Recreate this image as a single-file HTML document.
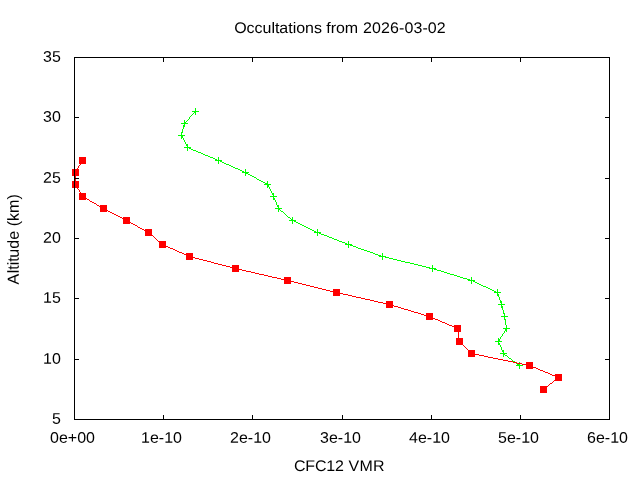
<!DOCTYPE html>
<html lang="en"><head><meta charset="utf-8"><title>Occultations from 2026-03-02</title>
<style>
html,body{margin:0;padding:0;background:#fff;}
body{width:640px;height:480px;overflow:hidden;font-family:"Liberation Sans",sans-serif;}
svg{display:block;}
text{font-family:"Liberation Sans",sans-serif;font-size:16px;fill:#000;}
</style></head><body>
<svg width="640" height="480" viewBox="0 0 640 480">
<rect width="640" height="480" fill="#fff"/>
<text transform="translate(234.2,33) rotate(0.03) scale(1,0.96)"><tspan x="0" textLength="87.7" lengthAdjust="spacing">Occultations</tspan> <tspan x="92">from</tspan> <tspan x="128.9" textLength="82.6" lengthAdjust="spacing">2026-03-02</tspan></text>
<text transform="translate(294,471) rotate(0.03) scale(1,0.96)"><tspan x="0" textLength="49.8" lengthAdjust="spacing">CFC12</tspan> <tspan x="54.6" textLength="36" lengthAdjust="spacing">VMR</tspan></text>
<text transform="translate(18.8,239.35) rotate(-90.03)"><tspan x="-45.15">A</tspan><tspan x="-33.9">ltit</tspan><tspan x="-18.3" textLength="63.46" lengthAdjust="spacing">ude (km)</tspan></text>
<text transform="translate(60.9,423.85) rotate(0.03) scale(1,0.96)" text-anchor="end">5</text>
<text transform="translate(60.9,363.85) rotate(0.03) scale(1,0.96)" text-anchor="end">10</text>
<text transform="translate(60.9,302.85) rotate(0.03) scale(1,0.96)" text-anchor="end">15</text>
<text transform="translate(60.9,242.85) rotate(0.03) scale(1,0.96)" text-anchor="end">20</text>
<text transform="translate(60.9,182.85) rotate(0.03) scale(1,0.96)" text-anchor="end">25</text>
<text transform="translate(60.9,121.85) rotate(0.03) scale(1,0.96)" text-anchor="end">30</text>
<text transform="translate(60.9,61.85) rotate(0.03) scale(1,0.96)" text-anchor="end">35</text>
<text transform="translate(72.5,442.8) rotate(0.03) scale(1,0.96)" text-anchor="middle">0e+00</text>
<text transform="translate(161.5,442.8) rotate(0.03) scale(1,0.96)" text-anchor="middle">1e-10</text>
<text transform="translate(250.5,442.8) rotate(0.03) scale(1,0.96)" text-anchor="middle">2e-10</text>
<text transform="translate(340.5,442.8) rotate(0.03) scale(1,0.96)" text-anchor="middle">3e-10</text>
<text transform="translate(429.5,442.8) rotate(0.03) scale(1,0.96)" text-anchor="middle">4e-10</text>
<text transform="translate(518.5,442.8) rotate(0.03) scale(1,0.96)" text-anchor="middle">5e-10</text>
<text transform="translate(607.5,442.8) rotate(0.03) scale(1,0.96)" text-anchor="middle">6e-10</text>
<path fill="#00ff00" shape-rendering="crispEdges" d="M195,108h1v7h-1zM192,111h3v1h-3zM196,111h3v1h-3zM194,112h1v1h-1zM193,113h1v1h-1zM192,114h1v1h-1zM191,115h1v1h-1zM190,116h1v1h-1zM189,117h1v2h-1zM188,119h1v1h-1zM184,120h1v7h-1zM187,120h1v1h-1zM186,121h1v1h-1zM185,122h1v2h-1zM181,123h3v1h-3zM186,123h2v1h-2zM183,125h1v4h-1zM182,129h1v4h-1zM181,132h1v7h-1zM178,135h3v1h-3zM182,135h3v1h-3zM182,136h1v2h-1zM183,138h1v2h-1zM184,140h1v2h-1zM185,142h1v2h-1zM186,144h2v1h-2zM186,145h2v1h-2zM187,146h1v5h-1zM184,147h3v1h-3zM188,147h3v1h-3zM189,148h2v1h-2zM191,149h2v1h-2zM193,150h3v1h-3zM196,151h2v1h-2zM198,152h3v1h-3zM201,153h2v1h-2zM203,154h2v1h-2zM205,155h3v1h-3zM208,156h2v1h-2zM210,157h3v1h-3zM218,157h1v7h-1zM213,158h2v1h-2zM215,159h2v1h-2zM215,160h3v1h-3zM219,160h3v1h-3zM220,161h2v1h-2zM222,162h2v1h-2zM224,163h2v1h-2zM226,164h3v1h-3zM229,165h2v1h-2zM231,166h2v1h-2zM233,167h2v1h-2zM235,168h3v1h-3zM238,169h2v1h-2zM245,169h1v7h-1zM240,170h2v1h-2zM242,171h2v1h-2zM242,172h3v1h-3zM246,172h3v1h-3zM246,173h2v1h-2zM248,174h2v1h-2zM250,175h2v1h-2zM252,176h2v1h-2zM254,177h2v1h-2zM256,178h1v1h-1zM257,179h2v1h-2zM259,180h2v1h-2zM261,181h2v1h-2zM267,181h1v7h-1zM263,182h2v1h-2zM265,183h2v1h-2zM264,184h3v1h-3zM268,184h3v1h-3zM268,185h1v2h-1zM269,187h1v2h-1zM270,189h1v2h-1zM271,191h1v2h-1zM272,193h2v1h-2zM272,194h2v1h-2zM273,195h1v5h-1zM270,196h3v1h-3zM274,196h3v1h-3zM274,198h1v2h-1zM275,200h1v2h-1zM276,202h1v3h-1zM277,205h2v1h-2zM277,206h2v1h-2zM278,207h1v5h-1zM275,208h3v1h-3zM279,208h3v1h-3zM279,209h1v1h-1zM280,210h1v1h-1zM281,211h2v1h-2zM283,212h1v1h-1zM284,213h1v1h-1zM285,214h1v1h-1zM286,215h1v1h-1zM287,216h1v1h-1zM288,217h2v1h-2zM292,217h1v7h-1zM290,218h1v1h-1zM291,219h1v2h-1zM289,220h2v1h-2zM293,220h3v1h-3zM294,221h2v1h-2zM296,222h2v1h-2zM298,223h2v1h-2zM300,224h2v1h-2zM302,225h2v1h-2zM304,226h2v1h-2zM306,227h2v1h-2zM308,228h2v1h-2zM310,229h2v1h-2zM317,229h1v7h-1zM312,230h2v1h-2zM314,231h2v1h-2zM314,232h3v1h-3zM318,232h3v1h-3zM319,233h2v1h-2zM321,234h3v1h-3zM324,235h3v1h-3zM327,236h2v1h-2zM329,237h3v1h-3zM332,238h2v1h-2zM334,239h3v1h-3zM337,240h2v1h-2zM339,241h3v1h-3zM348,241h1v7h-1zM342,242h3v1h-3zM345,243h2v1h-2zM345,244h3v1h-3zM349,244h3v1h-3zM350,245h3v1h-3zM353,246h3v1h-3zM356,247h2v1h-2zM358,248h3v1h-3zM361,249h3v1h-3zM364,250h3v1h-3zM367,251h3v1h-3zM370,252h3v1h-3zM373,253h2v1h-2zM382,253h1v7h-1zM375,254h3v1h-3zM378,255h3v1h-3zM379,256h3v1h-3zM383,256h3v1h-3zM385,257h4v1h-4zM389,258h4v1h-4zM393,259h4v1h-4zM397,260h4v1h-4zM401,261h4v1h-4zM405,262h5v1h-5zM410,263h4v1h-4zM414,264h4v1h-4zM418,265h4v1h-4zM432,265h1v7h-1zM422,266h4v1h-4zM426,267h4v1h-4zM429,268h3v1h-3zM433,268h3v1h-3zM434,269h3v1h-3zM437,270h4v1h-4zM441,271h3v1h-3zM444,272h3v1h-3zM447,273h3v1h-3zM450,274h4v1h-4zM454,275h3v1h-3zM457,276h3v1h-3zM460,277h3v1h-3zM471,277h1v7h-1zM463,278h4v1h-4zM467,279h3v1h-3zM468,280h3v1h-3zM472,280h3v1h-3zM473,281h2v1h-2zM475,282h2v1h-2zM477,283h2v1h-2zM479,284h2v1h-2zM481,285h2v1h-2zM483,286h3v1h-3zM486,287h2v1h-2zM488,288h2v1h-2zM490,289h2v1h-2zM497,289h1v7h-1zM492,290h2v1h-2zM494,291h2v1h-2zM494,292h3v1h-3zM498,292h3v1h-3zM498,294h1v3h-1zM499,297h1v3h-1zM500,300h1v3h-1zM501,301h1v7h-1zM498,304h3v1h-3zM502,304h3v1h-3zM502,306h1v4h-1zM503,310h1v4h-1zM504,313h1v7h-1zM501,316h3v1h-3zM505,316h3v1h-3zM505,319h1v6h-1zM506,325h1v7h-1zM503,328h3v1h-3zM507,328h3v1h-3zM505,329h1v2h-1zM504,331h1v2h-1zM503,333h1v1h-1zM502,334h1v2h-1zM501,336h1v1h-1zM500,337h1v2h-1zM498,338h1v7h-1zM499,339h1v3h-1zM495,341h3v1h-3zM500,341h2v1h-2zM499,343h1v2h-1zM500,345h1v2h-1zM501,347h1v3h-1zM502,350h2v1h-2zM502,351h2v1h-2zM503,352h1v5h-1zM500,353h3v1h-3zM504,353h3v1h-3zM504,354h1v1h-1zM505,355h2v1h-2zM507,356h1v1h-1zM508,357h1v1h-1zM509,358h2v1h-2zM511,359h1v1h-1zM512,360h1v1h-1zM513,361h2v1h-2zM515,362h1v1h-1zM519,362h1v7h-1zM516,363h1v1h-1zM517,364h2v1h-2zM516,365h3v1h-3zM520,365h3v1h-3z"/>
<path fill="#ff0000" shape-rendering="crispEdges" d="M82,160h1v1h-1zM81,161h1v2h-1zM80,163h1v2h-1zM79,165h1v1h-1zM78,166h1v2h-1zM77,168h1v2h-1zM76,170h1v2h-1zM75,172h1v13h-1zM76,185h1v2h-1zM77,187h1v2h-1zM78,189h1v1h-1zM79,190h1v2h-1zM80,192h1v2h-1zM81,194h1v2h-1zM82,196h1v1h-1zM83,197h2v1h-2zM85,198h2v1h-2zM87,199h2v1h-2zM89,200h1v1h-1zM90,201h2v1h-2zM92,202h2v1h-2zM94,203h2v1h-2zM96,204h1v1h-1zM97,205h2v1h-2zM99,206h2v1h-2zM101,207h2v1h-2zM103,208h1v1h-1zM104,209h2v1h-2zM106,210h2v1h-2zM108,211h2v1h-2zM110,212h2v1h-2zM112,213h2v1h-2zM114,214h2v1h-2zM116,215h2v1h-2zM118,216h2v1h-2zM120,217h2v1h-2zM122,218h2v1h-2zM124,219h2v1h-2zM126,220h1v1h-1zM127,221h2v1h-2zM129,222h2v1h-2zM131,223h2v1h-2zM133,224h2v1h-2zM135,225h2v1h-2zM137,226h1v1h-1zM138,227h2v1h-2zM140,228h2v1h-2zM142,229h2v1h-2zM144,230h2v1h-2zM146,231h2v1h-2zM148,232h1v1h-1zM149,233h1v1h-1zM150,234h1v1h-1zM151,235h2v1h-2zM153,236h1v1h-1zM154,237h1v1h-1zM155,238h1v1h-1zM156,239h1v1h-1zM157,240h1v1h-1zM158,241h2v1h-2zM160,242h1v1h-1zM161,243h1v1h-1zM162,244h2v1h-2zM164,245h2v1h-2zM166,246h2v1h-2zM168,247h2v1h-2zM170,248h3v1h-3zM173,249h2v1h-2zM175,250h2v1h-2zM177,251h2v1h-2zM179,252h3v1h-3zM182,253h2v1h-2zM184,254h2v1h-2zM186,255h2v1h-2zM188,256h3v1h-3zM191,257h4v1h-4zM195,258h4v1h-4zM199,259h4v1h-4zM203,260h4v1h-4zM207,261h4v1h-4zM211,262h3v1h-3zM214,263h4v1h-4zM218,264h4v1h-4zM222,265h4v1h-4zM226,266h4v1h-4zM230,267h4v1h-4zM234,268h4v1h-4zM238,269h4v1h-4zM242,270h4v1h-4zM246,271h5v1h-5zM251,272h4v1h-4zM255,273h4v1h-4zM259,274h5v1h-5zM264,275h4v1h-4zM268,276h4v1h-4zM272,277h5v1h-5zM277,278h4v1h-4zM281,279h4v1h-4zM285,280h5v1h-5zM290,281h4v1h-4zM294,282h4v1h-4zM298,283h4v1h-4zM302,284h4v1h-4zM306,285h4v1h-4zM310,286h4v1h-4zM314,287h4v1h-4zM318,288h4v1h-4zM322,289h4v1h-4zM326,290h4v1h-4zM330,291h4v1h-4zM334,292h5v1h-5zM339,293h4v1h-4zM343,294h5v1h-5zM348,295h4v1h-4zM352,296h4v1h-4zM356,297h5v1h-5zM361,298h4v1h-4zM365,299h5v1h-5zM370,300h4v1h-4zM374,301h4v1h-4zM378,302h5v1h-5zM383,303h4v1h-4zM387,304h4v1h-4zM391,305h3v1h-3zM394,306h4v1h-4zM398,307h3v1h-3zM401,308h3v1h-3zM404,309h4v1h-4zM408,310h3v1h-3zM411,311h3v1h-3zM414,312h4v1h-4zM418,313h3v1h-3zM421,314h3v1h-3zM424,315h4v1h-4zM428,316h3v1h-3zM431,317h2v1h-2zM433,318h2v1h-2zM435,319h3v1h-3zM438,320h2v1h-2zM440,321h2v1h-2zM442,322h3v1h-3zM445,323h2v1h-2zM447,324h2v1h-2zM449,325h3v1h-3zM452,326h2v1h-2zM454,327h2v1h-2zM456,328h2v1h-2zM457,329h1v3h-1zM458,332h1v6h-1zM459,338h1v4h-1zM460,342h1v1h-1zM461,343h1v1h-1zM462,344h1v1h-1zM463,345h1v1h-1zM464,346h1v1h-1zM465,347h1v1h-1zM466,348h1v1h-1zM467,349h1v1h-1zM468,350h1v1h-1zM469,351h1v1h-1zM470,352h1v1h-1zM471,353h3v1h-3zM474,354h5v1h-5zM479,355h5v1h-5zM484,356h4v1h-4zM488,357h5v1h-5zM493,358h5v1h-5zM498,359h5v1h-5zM503,360h5v1h-5zM508,361h5v1h-5zM513,362h4v1h-4zM517,363h5v1h-5zM522,364h5v1h-5zM527,365h4v1h-4zM531,366h2v1h-2zM533,367h3v1h-3zM536,368h2v1h-2zM538,369h2v1h-2zM540,370h3v1h-3zM543,371h2v1h-2zM545,372h3v1h-3zM548,373h2v1h-2zM550,374h2v1h-2zM552,375h3v1h-3zM555,376h2v1h-2zM557,377h2v1h-2zM557,378h1v1h-1zM555,379h2v1h-2zM554,380h1v1h-1zM553,381h1v1h-1zM552,382h1v1h-1zM550,383h2v1h-2zM549,384h1v1h-1zM548,385h1v1h-1zM547,386h1v1h-1zM545,387h2v1h-2zM544,388h1v1h-1zM543,389h1v1h-1zM79,157h7v7h-7zM72,169h7v7h-7zM72,181h7v7h-7zM79,193h7v7h-7zM100,205h7v7h-7zM123,217h7v7h-7zM145,229h7v7h-7zM159,241h7v7h-7zM186,253h7v7h-7zM232,265h7v7h-7zM284,277h7v7h-7zM333,289h7v7h-7zM386,301h7v7h-7zM426,313h7v7h-7zM454,325h7v7h-7zM456,338h7v7h-7zM468,350h7v7h-7zM526,362h7v7h-7zM555,374h7v7h-7zM540,386h7v7h-7z"/>
<path fill="#000" fill-rule="evenodd" shape-rendering="crispEdges" d="M74,57h536v363h-536zM75,58v361h534v-361zM75,359h4v1h-4zM609,359h-4v1h4zM75,298h4v1h-4zM609,298h-4v1h4zM75,238h4v1h-4zM609,238h-4v1h4zM75,178h4v1h-4zM609,178h-4v1h4zM75,117h4v1h-4zM609,117h-4v1h4zM163,419v-4h1v4zM163,58v4h1v-4zM252,419v-4h1v4zM252,58v4h1v-4zM342,419v-4h1v4zM342,58v4h1v-4zM431,419v-4h1v4zM431,58v4h1v-4zM520,419v-4h1v4zM520,58v4h1v-4z"/>
</svg>
</body></html>
